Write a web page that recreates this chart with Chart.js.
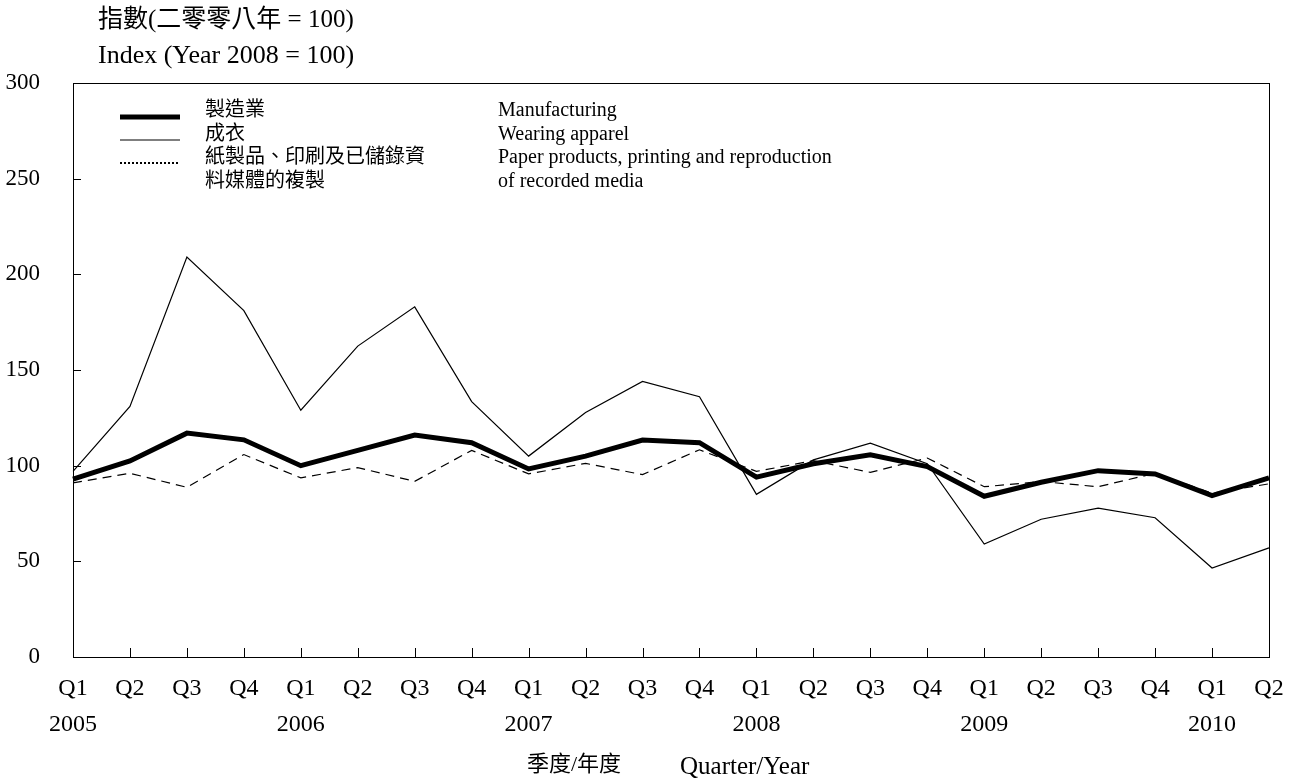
<!DOCTYPE html>
<html lang="zh-Hant">
<head>
    <meta charset="UTF-8">
    <title>Manufacturing index 2005-2010</title>
    <script src="https://cdn.jsdelivr.net/npm/chart.js"></script>
    <style>
        body { margin: 0; background: #fff; }
        #wrap { width: 1293px; height: 781px; }
    </style>
</head>
<body>
    <div id="wrap"><canvas id="chart"></canvas></div>
    <script>
        // tick labels: quarter, plus year under each Q1
        const quarters = ['Q1', 'Q2', 'Q3', 'Q4'];
        const years = ['2005', '2006', '2007', '2008', '2009', '2010'];
        const labels = [];
        years.forEach(y => quarters.forEach((q, i) => {
            if (y === '2010' && i > 1) return;
            labels.push(i === 0 ? [q, y] : q);
        }));

        // values
        const manufacturing = [93, 102.5, 117, 113.5, 100, 108, 116, 112,
                               98.3, 105, 113.4, 112, 94, 101, 105.7, 99.5,
                               84, 91.3, 97.4, 95.7, 84.4, 93.6];
        const apparel = [97, 131, 209, 181, 129, 162.5, 183, 133.5,
                         105, 127.8, 144, 136, 85, 103, 111.8, 101,
                         59, 72, 77.8, 72.8, 46.5, 57];
        const paper = [91, 96, 88.7, 105.8, 93.6, 99, 91.8, 108,
                       95.7, 101.2, 95.3, 108.3, 97, 102.6, 96.5, 104,
                       89, 91.7, 89, 96, 85.6, 90.5];

        const legendRows = [
            ['製造業', 'Manufacturing'],
            ['成衣', 'Wearing apparel'],
            ['紙製品、印刷及已儲錄資', 'Paper products, printing and reproduction'],
            ['料媒體的複製', 'of recorded media']
        ];

        const FONT = "'Liberation Serif', 'Noto Sans CJK TC', serif";

        // frame, inward ticks, titles and legend
        const decor = {
            id: 'decor',
            afterDraw(chart) {
                const ctx = chart.ctx;
                const a = chart.chartArea;
                const xs = chart.scales.x, ys = chart.scales.y;
                ctx.save();
                ctx.strokeStyle = '#000';
                ctx.lineWidth = 1;
                ctx.setLineDash([]);
                ctx.strokeRect(a.left + 0.5, a.top + 0.5, a.right - a.left, a.bottom - a.top);
                ctx.beginPath();
                xs.ticks.forEach((t, i) => {
                    const x = Math.round(xs.getPixelForTick(i)) + 0.5;
                    ctx.moveTo(x, a.bottom);
                    ctx.lineTo(x, a.bottom - 9);
                });
                ys.ticks.forEach((t, i) => {
                    const y = Math.round(ys.getPixelForTick(i)) + 0.5;
                    ctx.moveTo(a.left, y);
                    ctx.lineTo(a.left + 8, y);
                });
                ctx.stroke();

                ctx.fillStyle = '#000';
                ctx.textBaseline = 'middle';
                ctx.textAlign = 'left';
                ctx.font = '25px ' + FONT;
                ctx.fillText('指數(二零零八年 = 100)', 98, 20);
                ctx.font = '26px ' + FONT;
                ctx.fillText('Index (Year 2008 = 100)', 98, 56);

                ctx.font = '22px ' + FONT;
                ctx.textAlign = 'right';
                ctx.fillText('季度/年度', 621, 765);
                ctx.textAlign = 'left';
                ctx.font = '25px ' + FONT;
                ctx.fillText('Quarter/Year', 680, 767);

                // legend
                const sy = [117, 140, 163];
                ctx.lineWidth = 5;
                ctx.beginPath(); ctx.moveTo(120, sy[0]); ctx.lineTo(180, sy[0]); ctx.stroke();
                ctx.lineWidth = 1.2;
                ctx.beginPath(); ctx.moveTo(120, sy[1]); ctx.lineTo(180, sy[1]); ctx.stroke();
                ctx.lineWidth = 2;
                ctx.setLineDash([2, 2]);
                ctx.beginPath(); ctx.moveTo(120, sy[2]); ctx.lineTo(180, sy[2]); ctx.stroke();
                ctx.setLineDash([]);
                ctx.font = '20px ' + FONT;
                legendRows.forEach((r, i) => {
                    const y = 111 + i * 23.5;
                    ctx.fillText(r[0], 205, y);
                    ctx.fillText(r[1], 498, y);
                });
                ctx.restore();
            }
        };

        new Chart(document.getElementById('chart'), {
            type: 'line',
            data: {
                labels: labels,
                datasets: [
                    { label: 'Wearing apparel', data: apparel, borderColor: '#000', borderWidth: 1.2 },
                    { label: 'Paper products', data: paper, borderColor: '#000', borderWidth: 1.2, borderDash: [9, 6] },
                    { label: 'Manufacturing', data: manufacturing, borderColor: '#000', borderWidth: 5 }
                ]
            },
            options: {
                responsive: true,
                maintainAspectRatio: false,
                animation: false,
                layout: { padding: { top: 83, right: 24, left: 0, bottom: 0 } },
                elements: { point: { radius: 0 }, line: { tension: 0 } },
                plugins: { legend: { display: false }, tooltip: { enabled: false } },
                scales: {
                    x: {
                        offset: false,
                        grid: { display: false },
                        border: { display: false },
                        ticks: {
                            color: '#000', padding: 6, maxRotation: 0, autoSkip: false,
                            font: { family: FONT, size: 24, lineHeight: 1.5 }
                        },
                        afterFit(s) { s.height = 124; }
                    },
                    y: {
                        min: 0, max: 300,
                        grid: { display: false },
                        border: { display: false },
                        ticks: {
                            stepSize: 50, color: '#000', padding: 25,
                            font: { family: FONT, size: 23 }
                        },
                        afterFit(s) { s.width = 73; }
                    }
                }
            },
            plugins: [decor]
        });
    </script>
</body>
</html>
